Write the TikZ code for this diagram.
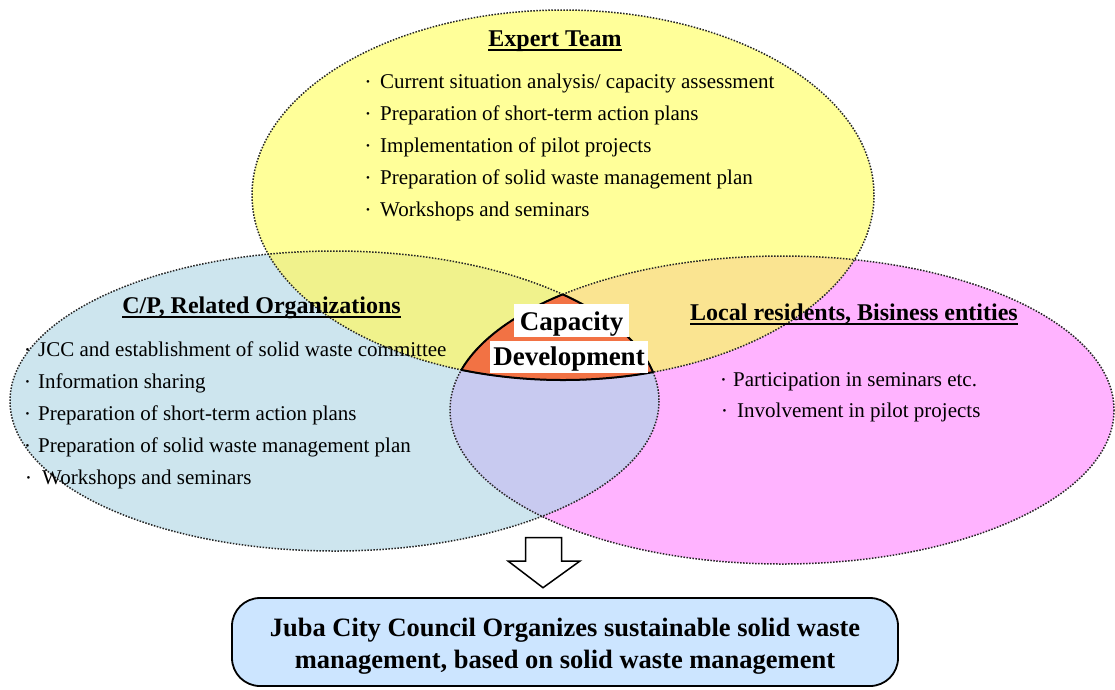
\documentclass[tikz,border=0pt]{standalone}
\usepackage{fontspec}
\setmainfont{Liberation Serif}
\definecolor{ylw}{RGB}{255,255,153}
\definecolor{blu}{RGB}{205,229,238}
\definecolor{pnk}{RGB}{255,179,255}
\definecolor{ylwblu}{RGB}{240,242,140}
\definecolor{ylwpnk}{RGB}{250,228,145}
\definecolor{blupnk}{RGB}{200,202,240}
\definecolor{coreorange}{RGB}{242,114,68}
\definecolor{goalfill}{RGB}{204,229,255}
% the three fields of actors
\newcommand\ellExpert{(563,195) ellipse [x radius=311, y radius=185]}
\newcommand\ellOrgs{(334.5,401) ellipse [x radius=324.5, y radius=150]}
\newcommand\ellLocal{(782,410) ellipse [x radius=332, y radius=154]}
% list bullet
\newcommand\dotmark{\raisebox{2.5pt}{\fontsize{11}{11}\selectfont •}}
\begin{document}
\begin{tikzpicture}[x=1pt,y=-1pt,
  every node/.style={inner sep=0pt},
  ring/.style={draw=black!85, line width=1.5pt, dash pattern=on 1.5pt off 1.5pt},
  rim/.style={draw=black, line width=2pt},
  head/.style={anchor=base, font=\bfseries\fontsize{24}{28}\selectfont},
  uline/.style={line width=1.8pt},
  item/.style={anchor=base west, font=\fontsize{21}{25}\selectfont},
  corelabel/.style={anchor=base, fill=white, font=\bfseries\fontsize{27}{30}\selectfont},
  goal/.style={draw=black, line width=1.8pt, fill=goalfill, rounded corners=28pt,
    minimum width=666pt, minimum height=88pt, align=center,
    font=\bfseries\fontsize{26.5}{32}\selectfont},
  blockarrow/.style={draw=black, fill=white, line width=1.5pt, line join=miter}]
\useasboundingbox (0,0) rectangle (1115,689);

% base fills
\fill[blu] \ellOrgs;
\fill[pnk] \ellLocal;
\fill[ylw] \ellExpert;
% pairwise overlaps
\begin{scope}
  \clip \ellExpert;
  \fill[ylwblu] \ellOrgs;
  \fill[ylwpnk] \ellLocal;
\end{scope}
\begin{scope}
  \clip \ellOrgs;
  \fill[blupnk] \ellLocal;
\end{scope}
% dotted outlines
\draw[ring] \ellOrgs;
\draw[ring] \ellLocal;
\draw[ring] \ellExpert;
% common core of all three fields
\begin{scope}
  \clip \ellOrgs;
  \clip \ellLocal;
  \fill[coreorange] \ellExpert;
  \draw[rim] \ellExpert;
\end{scope}
\begin{scope}
  \clip \ellExpert;
  \clip \ellOrgs;
  \draw[rim] \ellLocal;
\end{scope}
\begin{scope}
  \clip \ellExpert;
  \clip \ellLocal;
  \draw[rim] \ellOrgs;
\end{scope}

% Expert Team
\node[head] (et) at (555,46) {Expert Team};
\draw[uline] ([yshift=-4pt]et.base west) -- ([yshift=-4pt]et.base east);
\node[item] (t1) at (366,88) {\makebox[14pt][l]{\dotmark}Current situation analysis/ capacity assessment};
\node[item] (t2) at (366,120) {\makebox[14pt][l]{\dotmark}Preparation of short-term action plans};
\node[item] (t3) at (366,152) {\makebox[14pt][l]{\dotmark}Implementation of pilot projects};
\node[item] (t4) at (366,184) {\makebox[14pt][l]{\dotmark}Preparation of solid waste management plan};
\node[item] (t5) at (366,216) {\makebox[14pt][l]{\dotmark}Workshops and seminars};

% C/P, Related Organizations
\node[head] (cp) at (261.5,313) {C/P, Related Organizations};
\draw[uline] ([yshift=-4pt]cp.base west) -- ([yshift=-4pt]cp.base east);
\node[item] (l1) at (25.5,356) {\makebox[12.5pt][l]{\dotmark}JCC and establishment of solid waste committee};
\node[item] (l2) at (25.5,388) {\makebox[12.5pt][l]{\dotmark}Information sharing};
\node[item] (l3) at (25.5,420) {\makebox[12.5pt][l]{\dotmark}Preparation of short-term action plans};
\node[item] (l4) at (25.5,452) {\makebox[12.5pt][l]{\dotmark}Preparation of solid waste management plan};
\node[item] (l5) at (26.5,484) {\makebox[15.5pt][l]{\dotmark}Workshops and seminars};

% Local residents, Business entities
\node[head] (lr) at (854,320) {Local residents, Bisiness entities};
\draw[uline] ([yshift=-4pt]lr.base west) -- ([yshift=-4pt]lr.base east);
\node[item] (r1) at (721.5,386) {\makebox[11.5pt][l]{\dotmark}Participation in seminars etc.};
\node[item] (r2) at (722.5,417) {\makebox[14.5pt][l]{\dotmark}Involvement in pilot projects};

% Capacity Development label
\node[corelabel, minimum width=115pt, text height=26pt, text depth=6.7pt] (cap) at (571.5,330) {Capacity};
\node[corelabel, minimum width=158pt, text height=24pt, text depth=7.7pt] (dev) at (569,365) {Development};

% outcome
\node[goal] (goal) at (565,642) {\rule{0pt}{26pt}Juba City Council Organizes sustainable solid waste\\management, based on solid waste management};

% block arrow towards the outcome
\coordinate (tip) at (543,587.7);
\draw[blockarrow] (525.7,537.7) -- (561.7,537.7) -- (561.7,561) -- (580,561)
  -- (tip) -- (508,561) -- (525.7,561) -- cycle;
\end{tikzpicture}
\end{document}
